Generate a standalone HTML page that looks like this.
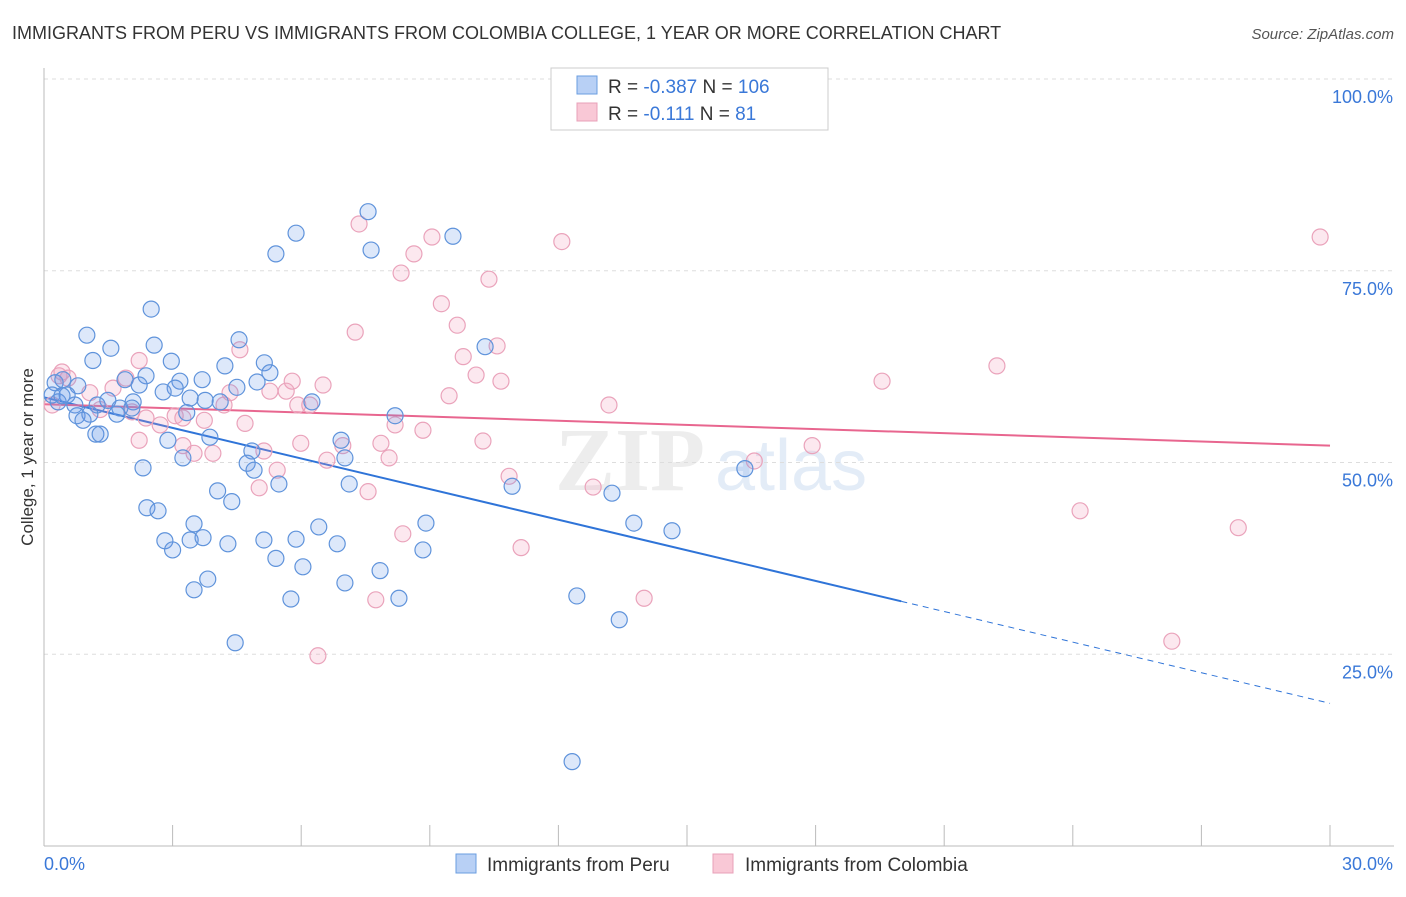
<!DOCTYPE html>
<html><head><meta charset="utf-8"><style>
body{margin:0;background:#fff;font-family:"Liberation Sans",sans-serif;}
</style></head><body>
<svg id="chart" width="1406" height="892" xmlns="http://www.w3.org/2000/svg" font-family="Liberation Sans, sans-serif">
<text x="12" y="39" font-size="18" fill="#333">IMMIGRANTS FROM PERU VS IMMIGRANTS FROM COLOMBIA COLLEGE, 1 YEAR OR MORE CORRELATION CHART</text>
<text x="1394" y="39" font-size="15" fill="#555" text-anchor="end" font-style="italic">Source: ZipAtlas.com</text>
<g opacity="0.5">
<text x="555" y="490" font-size="90" fill="#ddd" font-family="Liberation Serif, serif" font-weight="bold">ZIP</text>
<text x="715" y="490" font-size="72" fill="#c9daf0">atlas</text>
</g>
<g id="grid"></g>
<g id="axes"></g>
<g id="trends"></g>
<g id="points"></g>
<text transform="translate(33,457) rotate(-90)" font-size="17" fill="#333" text-anchor="middle">College, 1 year or more</text>
<g>
<rect x="551" y="68" width="277" height="62" fill="#fff" stroke="#ccc"/>
<rect x="577" y="76" width="20" height="18" fill="#b8d0f5" stroke="#6a9ee0"/>
<rect x="577" y="103" width="20" height="18" fill="#f9c8d6" stroke="#e8a0b8"/>
<text x="608" y="93" font-size="19" fill="#333">R = <tspan fill="#3a78d8">-0.387</tspan>   N = <tspan fill="#3a78d8">106</tspan></text>
<text x="608" y="120" font-size="19" fill="#333">R =  <tspan fill="#3a78d8"> -0.111</tspan>   N =   <tspan fill="#3a78d8"> 81</tspan></text>
</g>
<g>
<rect x="456" y="854" width="20" height="19" fill="#b8d0f5" stroke="#6a9ee0"/>
<text x="487" y="871" font-size="19" fill="#333">Immigrants from Peru</text>
<rect x="713" y="854" width="20" height="19" fill="#f9c8d6" stroke="#e8a0b8"/>
<text x="745" y="871" font-size="19" fill="#333">Immigrants from Colombia</text>
</g>
</svg>
<script>
const peruX=[7.56,5.88,9.54,5.41,7.63,2.50,1.00,4.55,10.29,1.56,2.57,1.14,2.97,5.14,4.22,5.27,2.38,1.89,3.17,3.69,4.97,4.50,3.06,2.78,2.22,0.26,0.44,0.79,0.19,0.54,0.33,0.72,1.24,1.49,1.77,2.08,3.41,3.76,4.11,6.25,8.19,0.77,1.07,0.91,1.70,2.05,3.33,1.21,1.31,2.89,3.87,4.85,6.93,3.24,4.74,4.90,7.02,2.31,5.48,7.12,10.92,13.25,16.35,4.05,4.38,2.40,2.66,3.50,6.41,8.91,13.76,14.65,2.82,3.41,3.71,4.29,5.13,5.88,6.84,3.00,8.84,5.41,6.04,7.84,3.82,7.02,3.50,5.76,8.28,12.43,13.42,4.46,12.32,0.42];
const peruY=[82.7,79.9,79.5,77.2,77.7,70.0,66.6,66.0,65.1,64.9,65.3,63.3,63.2,63.0,62.6,61.7,61.3,60.8,60.6,60.8,60.5,59.8,59.7,59.2,60.1,60.4,60.8,60.0,58.8,58.8,57.9,57.5,57.5,58.1,57.1,57.9,58.4,58.1,57.9,57.9,56.1,56.1,56.3,55.5,56.3,57.1,56.5,53.7,53.7,52.9,53.3,51.5,52.9,50.6,49.9,49.0,50.6,49.3,47.2,47.2,46.9,46.0,49.2,46.3,44.9,44.1,43.7,42.0,41.6,42.1,42.1,41.1,39.8,39.9,40.2,39.4,39.9,40.0,39.4,38.6,38.6,37.5,36.4,35.9,34.8,34.3,33.4,32.2,32.3,32.6,29.5,26.5,11.0,58.7];
const colX=[29.77,12.08,7.35,9.05,8.63,8.33,10.38,9.27,9.64,7.26,10.57,9.78,4.57,22.23,19.55,10.08,10.66,6.51,5.79,5.65,5.27,9.45,13.18,0.35,0.56,1.91,1.61,1.07,0.19,1.31,2.05,2.38,3.06,3.74,4.69,4.20,5.92,6.20,8.84,8.19,10.24,7.86,2.22,3.24,3.50,5.13,5.99,6.97,6.60,8.05,3.94,17.92,16.57,5.44,10.85,5.02,7.56,12.81,24.17,27.86,8.37,11.13,14.00,7.74,26.31,6.39,3.24,2.71,4.34,0.42,2.22];
const colY=[79.4,78.8,81.1,79.4,77.2,74.7,73.9,70.7,67.9,67.0,65.2,63.8,64.7,62.6,60.6,61.4,60.6,60.1,60.6,59.3,59.3,58.7,57.5,61.3,61.0,61.0,59.7,59.1,57.5,56.9,56.6,55.8,56.1,55.5,55.1,57.5,57.5,57.5,54.2,54.9,52.8,52.5,52.9,52.2,51.2,51.5,52.5,52.2,50.3,50.6,51.2,52.2,50.2,49.0,48.2,46.7,46.2,46.8,43.7,41.5,40.7,38.9,32.3,32.1,26.7,24.8,55.8,54.9,59.1,61.8,63.3];
const peruTrend=[58.5,18.6]; // value at x=0 and x=30
const peruSolidEnd=20.0;
const colTrend=[57.6,52.2];
const yTicks=[25,50,75,100];
const yTickLabels=["25.0%","50.0%","75.0%","100.0%"];
const xTicks=[0,3,6,9,12,15,18,21,24,27,30];

const NS="http://www.w3.org/2000/svg";
const X0=44,X1=1330,Y0=846,Y100=79;
const sx=v=>X0+(v/30)*(X1-X0);
const sy=v=>Y0-(v/100)*(Y0-Y100);
function mk(tag,attrs,parent){const e=document.createElementNS(NS,tag);for(const k in attrs)e.setAttribute(k,attrs[k]);parent.appendChild(e);return e;}
const grid=document.getElementById('grid'),axes=document.getElementById('axes'),tr=document.getElementById('trends'),pts=document.getElementById('points');
yTicks.forEach((t,i)=>{
 const l=mk('line',{x1:X0,x2:1394,y1:sy(t),y2:sy(t),stroke:'#ddd','stroke-dasharray':'4,4'},grid);
 
 
 const tx=mk('text',{x:1393,y:sy(t)+24,'font-size':18,fill:'#3a78d8','text-anchor':'end'},axes);
 tx.textContent=yTickLabels[i];
 
 
});
const ya=mk('line',{x1:X0,x2:X0,y1:68,y2:Y0,stroke:'#bbb'},axes);


const xa=mk('line',{x1:X0,x2:1394,y1:Y0,y2:Y0,stroke:'#bbb'},axes);


xTicks.forEach(t=>{
 const l=mk('line',{x1:sx(t),x2:sx(t),y1:825,y2:Y0,stroke:'#bbb'},axes);
 
 
});
const xl0=mk('text',{x:44,y:870,'font-size':18,fill:'#3a78d8'},axes);xl0.textContent='0.0%';


const xl1=mk('text',{x:1393,y:870,'font-size':18,fill:'#3a78d8','text-anchor':'end'},axes);xl1.textContent='30.0%';



function draw(xs,ys,fill,stroke,name){
 xs.forEach((x,i)=>{
  const c=mk('circle',{cx:sx(x),cy:sy(ys[i]),r:8,fill:fill,stroke:stroke,'stroke-width':1.2},pts);
  
  
 });
}
draw(colX,colY,'rgba(240,150,180,0.22)','#eaa3bb','point-colombia');
draw(peruX,peruY,'rgba(100,150,230,0.22)','#5f93db','point-peru');

const pv=x=>peruTrend[0]+(peruTrend[1]-peruTrend[0])*x/30;
const b1=mk('line',{x1:sx(0),y1:sy(pv(0)),x2:sx(peruSolidEnd),y2:sy(pv(peruSolidEnd)),stroke:'#2f74d8','stroke-width':2},tr);


const b2=mk('line',{x1:sx(peruSolidEnd),y1:sy(pv(peruSolidEnd)),x2:sx(30),y2:sy(pv(30)),stroke:'#2f74d8','stroke-width':1,'stroke-dasharray':'6,5'},tr);


const p1=mk('line',{x1:sx(0),y1:sy(colTrend[0]),x2:sx(30),y2:sy(colTrend[1]),stroke:'#e8668f','stroke-width':2},tr);


</script>
</body></html>
